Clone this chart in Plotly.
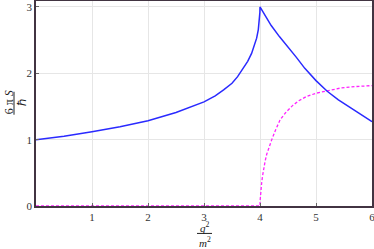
import plotly.graph_objects as go

# Blue curve
blue_x = [0, 0.5, 1, 1.5, 2, 2.5, 3, 3.2, 3.35, 3.5, 3.6, 3.7, 3.78, 3.85, 3.9, 3.94, 3.97, 3.99,
          3.998, 4.0, 4.1, 4.2, 4.35, 4.5, 4.65, 4.8, 5.0, 5.2, 5.4, 5.6, 5.8, 6.0]
blue_y = [1.0, 1.05, 1.12, 1.195, 1.285, 1.41, 1.57, 1.66, 1.75, 1.85, 1.95, 2.07, 2.18, 2.3, 2.42,
          2.53, 2.66, 2.8, 2.92, 3.0, 2.86, 2.72, 2.55, 2.40, 2.24, 2.075, 1.89, 1.73, 1.60, 1.49,
          1.38, 1.27]

# Magenta dashed curve
mag_x = [0, 4.0, 4.002, 4.005, 4.01, 4.02, 4.03, 4.045, 4.06, 4.09, 4.12, 4.16, 4.21, 4.28, 4.36,
         4.47, 4.59, 4.7, 4.83, 5.0, 5.19, 5.45, 5.7, 6.0]
mag_y = [0, 0, 0.08, 0.13, 0.2, 0.28, 0.35, 0.45, 0.55, 0.67, 0.78, 0.89, 1.0, 1.15, 1.3,
         1.42, 1.52, 1.59, 1.65, 1.70, 1.735, 1.78, 1.80, 1.815]

x_ticks = [1, 2, 3, 4, 5, 6]
y_ticks = [0, 1, 2, 3]

W, H = 374, 249
L, R, T, B = 36, 2, 1, 42.5
ph = H - T - B

def py(Y):
    return (H - B - Y) / ph

def px(X):
    return (X - L) / (W - L - R)

fig = go.Figure()
fig.add_trace(go.Scatter(x=mag_x, y=mag_y, mode="lines",
                         line=dict(color="#ff22ff", width=1.3, dash="3px,2px")))
fig.add_trace(go.Scatter(x=blue_x, y=blue_y, mode="lines",
                         line=dict(color="#2a2aff", width=1.5)))

SERIF = "Liberation Serif"
font = dict(family=SERIF, size=11, color="#333")
axis_common = dict(showline=True, mirror=True, linecolor="rgba(45,30,45,0.9)", linewidth=1.5,
                   showgrid=True, gridcolor="#e6e6e6", gridwidth=1, zeroline=False,
                   ticks="inside", ticklen=3, tickcolor="#666", tickfont=font, automargin=False,
                   ticklabeloverflow="allow")

fig.update_layout(
    width=W, height=H,
    margin=dict(l=L, r=R, t=T, b=B, pad=0),
    paper_bgcolor="white", plot_bgcolor="white",
    showlegend=False,
    font=dict(family=SERIF),
    xaxis=dict(range=[0, 6], tickvals=x_ticks, **axis_common),
    yaxis=dict(range=[0, 3.09], tickvals=y_ticks, **axis_common),
)

lab_font = dict(family=SERIF, size=12, color="#222")
# y label: 6 π S / ℏ rotated
fig.add_annotation(x=px(8.5), y=py(103), xref="paper", yref="paper", text="6 π <i>S</i>",
                   textangle=-90, showarrow=False, font=lab_font, xanchor="center", yanchor="middle")
fig.add_annotation(x=px(21.5), y=py(103), xref="paper", yref="paper", text="ℏ",
                   textangle=-90, showarrow=False, font=lab_font, xanchor="center", yanchor="middle")
fig.add_shape(type="line", xref="paper", yref="paper", x0=px(14), x1=px(14), y0=py(115), y1=py(92),
              line=dict(color="#222", width=1))
# x label: q^2 / m^2
xl_font = dict(family=SERIF, size=11, color="#222")
fig.add_annotation(x=px(204.5), y=py(227.5), xref="paper", yref="paper", text="<i>q</i><sup>2</sup>",
                   showarrow=False, font=xl_font, xanchor="center", yanchor="middle")
fig.add_annotation(x=px(204.5), y=py(242.5), xref="paper", yref="paper", text="<i>m</i><sup>2</sup>",
                   showarrow=False, font=xl_font, xanchor="center", yanchor="middle")
fig.add_shape(type="line", xref="paper", yref="paper", x0=px(197), x1=px(212), y0=py(234), y1=py(234),
              line=dict(color="#222", width=1))

fig.write_html("out.html", config={"displayModeBar": False},
               post_script="document.body.style.margin='0';document.body.style.padding='0';")
